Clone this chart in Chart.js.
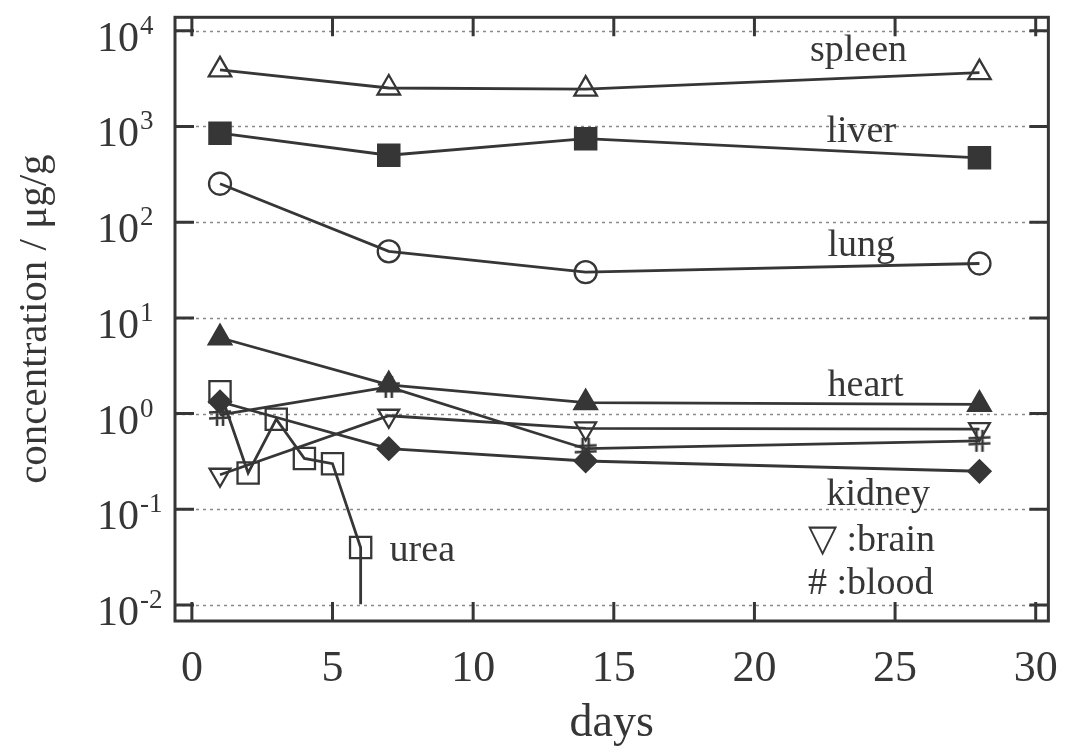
<!DOCTYPE html>
<html>
<head>
<meta charset="utf-8">
<script src="https://cdn.jsdelivr.net/npm/chart.js@4"></script>
<style>
  html, body { margin: 0; padding: 0; background: #fff; }
  canvas { display: block; }
</style>
</head>
<body>
<canvas id="chart" width="1080" height="755"></canvas>
<script>
// organ series, sampled on days 1, 7, 14, 28
const organDays = [1, 7, 14, 28]
const spleen = [3900, 2520, 2450, 3650]
const liver = [850, 500, 745, 470]
const lung = [252, 49.5, 30, 37]
const heart = [6.2, 2.0, 1.3, 1.25]
const brain = [0.23, 0.95, 0.7, 0.69]
const blood = [0.97, 1.9, 0.43, 0.52]
const kidney = [1.33, 0.43, 0.32, 0.25]

// urea is sampled daily for the first week
const ureaDays = [1, 2, 3, 4, 5, 6, 6]
const urea = [1.69, 0.24, 0.875, 0.34, 0.3, 0.04, 0.0102]

// axes
const xTicks = [0, 5, 10, 15, 20, 25, 30]
const yExponents = [-2, -1, 0, 1, 2, 3, 4]
const yTicks = yExponents.map(e => Math.pow(10, e))

// in-plot labels (data coordinates, text baseline)
const labelTexts = ["spleen", "liver", "lung", "heart", "kidney", "\u25BD :brain", "# :blood", "urea"]
const labelDays = [23.7, 23.8, 23.8, 23.95, 24.4, 21.9, 21.9, 7.03]
const labelValues = [4840, 686, 44.3, 1.535, 0.112, 0.0363, 0.0131, 0.029]
const labelAlign = ["center", "center", "center", "center", "center", "left", "left", "left"]

const ink = "#363636"
const serif = "'Liberation Serif', 'Times New Roman', serif"
const none = "rgba(0,0,0,0)"

// '#' marker for blood
function sharpMarker() {
  const c = document.createElement("canvas")
  c.width = 24
  c.height = 24
  const g = c.getContext("2d")
  g.strokeStyle = ink
  g.lineWidth = 2.6
  g.beginPath()
  g.moveTo(9, 1); g.lineTo(9, 23)
  g.moveTo(15, 1); g.lineTo(15, 23)
  g.moveTo(1, 9.5); g.lineTo(23, 8.5)
  g.moveTo(1, 15.5); g.lineTo(23, 14.5)
  g.stroke()
  return c
}

const toPoints = (xs, ys) => ys.map((y, i) => ({ x: xs[i], y: y }))

function series(values, style, radius, filled, extra) {
  return Object.assign({
    data: toPoints(organDays, values),
    borderColor: ink,
    borderWidth: 2.8,
    pointStyle: style,
    pointRadius: radius,
    pointBorderWidth: 2.3,
    pointBorderColor: ink,
    pointBackgroundColor: filled ? ink : none,
    fill: false,
    tension: 0,
  }, extra || {})
}

const datasets = [
  series(spleen, "triangle", 13, false),
  series(liver, "rect", 15, true),
  series(lung, "circle", 11, false),
  series(heart, "triangle", 13, true),
  series(brain, "triangle", 12, false, { pointRotation: 180 }),
  series(blood, sharpMarker(), 12, false),
  series(kidney, "rectRot", 11, true),
  {
    data: toPoints(ureaDays, urea),
    borderColor: ink,
    borderWidth: 2.8,
    pointStyle: "rect",
    pointRadius: urea.map((v, i) => (i === urea.length - 1 ? 0 : 15)),
    pointBorderWidth: 2.3,
    pointBorderColor: ink,
    pointBackgroundColor: none,
    fill: false,
    tension: 0,
  },
]

// dotted decade lines, inward ticks and the box
const framePlugin = {
  id: "frame",
  beforeDatasetsDraw(chart) {
    const { ctx, chartArea: a, scales } = chart
    ctx.save()
    ctx.strokeStyle = "#8a8a8a"
    ctx.lineWidth = 1.3
    ctx.setLineDash([3, 4])
    scales.y.ticks.forEach(t => {
      const y = Math.round(scales.y.getPixelForValue(t.value)) + 0.5
      ctx.beginPath()
      ctx.moveTo(a.left, y)
      ctx.lineTo(a.right, y)
      ctx.stroke()
    })
    ctx.restore()
  },
  afterDraw(chart) {
    const { ctx, chartArea: a, scales } = chart
    const len = 19
    ctx.save()
    ctx.strokeStyle = ink
    ctx.lineWidth = 3
    ctx.beginPath()
    scales.y.ticks.forEach(t => {
      const y = scales.y.getPixelForValue(t.value)
      ctx.moveTo(a.left, y); ctx.lineTo(a.left + len, y)
      ctx.moveTo(a.right, y); ctx.lineTo(a.right - len, y)
    })
    scales.x.ticks.forEach(t => {
      const x = scales.x.getPixelForValue(t.value)
      ctx.moveTo(x, a.bottom); ctx.lineTo(x, a.bottom - len)
      ctx.moveTo(x, a.top); ctx.lineTo(x, a.top + len)
    })
    ctx.stroke()
    ctx.strokeRect(a.left, a.top, a.right - a.left, a.bottom - a.top)

    // y tick labels as 10 with a raised exponent
    ctx.fillStyle = ink
    ctx.textBaseline = "alphabetic"
    ctx.textAlign = "left"
    yExponents.forEach(e => {
      const y = scales.y.getPixelForValue(Math.pow(10, e))
      ctx.font = "42px " + serif
      ctx.fillText("10", 97, y + 20)
      const w = ctx.measureText("10").width
      ctx.font = "27px " + serif
      ctx.fillText(String(e), 97 + w + 1, y + 3)
    })

    // in-plot labels
    ctx.font = "38px " + serif
    labelTexts.forEach((txt, i) => {
      ctx.textAlign = labelAlign[i]
      ctx.fillText(txt, scales.x.getPixelForValue(labelDays[i]), scales.y.getPixelForValue(labelValues[i]))
    })
    ctx.restore()
  },
}

Chart.defaults.font.family = serif
Chart.defaults.color = ink

new Chart(document.getElementById("chart").getContext("2d"), {
  type: "line",
  data: { datasets: datasets },
  options: {
    responsive: false,
    animation: false,
    devicePixelRatio: 1,
    layout: { padding: { top: 12, right: 20, left: 0, bottom: 0 } },
    plugins: {
      legend: { display: false },
      tooltip: { enabled: false },
    },
    scales: {
      x: {
        type: "linear",
        min: -0.6,
        max: 30.45,
        afterBuildTicks: s => { s.ticks = xTicks.map(v => ({ value: v })) },
        afterFit: s => { s.height = 134 },
        grid: { display: false, drawTicks: false },
        border: { display: false },
        ticks: { font: { size: 44 }, color: ink, padding: 22, maxRotation: 0 },
        title: { display: true, text: "days", font: { size: 46 }, color: ink, padding: { top: 0, bottom: 3 } },
      },
      y: {
        type: "logarithmic",
        min: 0.00682,
        max: 13800,
        afterBuildTicks: s => { s.ticks = yTicks.map(v => ({ value: v })) },
        afterFit: s => { s.width = 175 },
        grid: { display: false, drawTicks: false },
        border: { display: false },
        ticks: { display: false },
        title: { display: true, text: "concentration / \u03BCg/g", font: { size: 41 }, color: ink, padding: { top: 11, bottom: 0 } },
      },
    },
  },
  plugins: [framePlugin],
})
</script>
</body>
</html>
